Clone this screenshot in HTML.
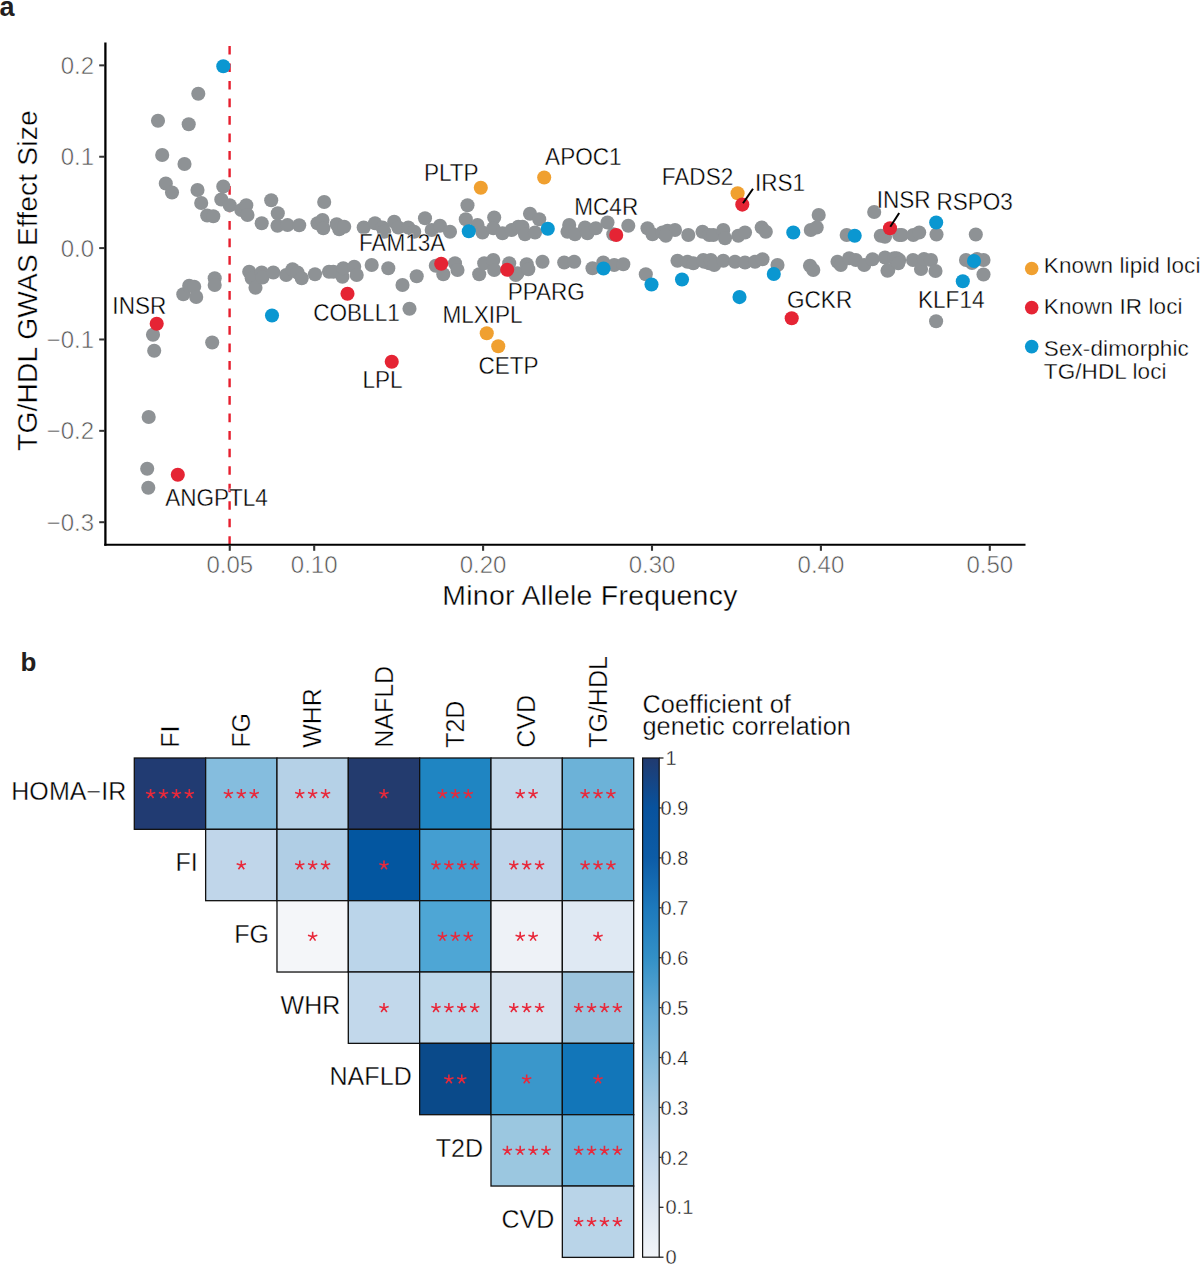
<!DOCTYPE html><html><head><meta charset="utf-8"><style>html,body{margin:0;padding:0;background:#fff;width:1200px;height:1265px;overflow:hidden}svg text{font-family:"Liberation Sans",sans-serif}.k{fill:#000;stroke:#fff;stroke-width:0.35px}.g{fill:#555;stroke:#fff;stroke-width:0.55px}.k2{fill:#111;stroke:#fff;stroke-width:0.4px}</style></head><body><svg width="1200" height="1265" viewBox="0 0 1200 1265" style="display:block">
<rect width="1200" height="1265" fill="#fff"/>
<text x="-0.5" y="15.5" font-size="27" font-weight="bold" fill="#231f20">a</text>
<text x="20.5" y="670.7" font-size="26" font-weight="bold" fill="#231f20">b</text>
<line x1="229.6" y1="45.9" x2="229.6" y2="545" stroke="#e61e2e" stroke-width="2.4" stroke-dasharray="8.7 8.81"/>
<circle cx="198.3" cy="93.8" r="7.05" fill="#8e9295"/>
<circle cx="158" cy="120.8" r="7.05" fill="#8e9295"/>
<circle cx="188.7" cy="124.2" r="7.05" fill="#8e9295"/>
<circle cx="162.2" cy="155" r="7.05" fill="#8e9295"/>
<circle cx="184.5" cy="164" r="7.05" fill="#8e9295"/>
<circle cx="165.8" cy="183.5" r="7.05" fill="#8e9295"/>
<circle cx="172" cy="192.5" r="7.05" fill="#8e9295"/>
<circle cx="197.5" cy="190" r="7.05" fill="#8e9295"/>
<circle cx="201.2" cy="203" r="7.05" fill="#8e9295"/>
<circle cx="207.2" cy="215.5" r="7.05" fill="#8e9295"/>
<circle cx="213.3" cy="216.2" r="7.05" fill="#8e9295"/>
<circle cx="223.3" cy="186.5" r="7.05" fill="#8e9295"/>
<circle cx="221.3" cy="199.5" r="7.05" fill="#8e9295"/>
<circle cx="229.7" cy="205.3" r="7.05" fill="#8e9295"/>
<circle cx="241.3" cy="210" r="7.05" fill="#8e9295"/>
<circle cx="246.3" cy="205.3" r="7.05" fill="#8e9295"/>
<circle cx="247.5" cy="215" r="7.05" fill="#8e9295"/>
<circle cx="261.7" cy="223.3" r="7.05" fill="#8e9295"/>
<circle cx="271.2" cy="200.3" r="7.05" fill="#8e9295"/>
<circle cx="277.8" cy="213.3" r="7.05" fill="#8e9295"/>
<circle cx="277.5" cy="225.8" r="7.05" fill="#8e9295"/>
<circle cx="287.5" cy="225" r="7.05" fill="#8e9295"/>
<circle cx="299.2" cy="225.3" r="7.05" fill="#8e9295"/>
<circle cx="317.5" cy="223.3" r="7.05" fill="#8e9295"/>
<circle cx="322.5" cy="220" r="7.05" fill="#8e9295"/>
<circle cx="323.3" cy="228.3" r="7.05" fill="#8e9295"/>
<circle cx="324.2" cy="202" r="7.05" fill="#8e9295"/>
<circle cx="183.3" cy="294.2" r="7.05" fill="#8e9295"/>
<circle cx="189.2" cy="285.8" r="7.05" fill="#8e9295"/>
<circle cx="194.2" cy="286.7" r="7.05" fill="#8e9295"/>
<circle cx="196.2" cy="297" r="7.05" fill="#8e9295"/>
<circle cx="214.7" cy="278.3" r="7.05" fill="#8e9295"/>
<circle cx="214.7" cy="285" r="7.05" fill="#8e9295"/>
<circle cx="249.2" cy="271.7" r="7.05" fill="#8e9295"/>
<circle cx="251.7" cy="278.3" r="7.05" fill="#8e9295"/>
<circle cx="255.5" cy="287.8" r="7.05" fill="#8e9295"/>
<circle cx="261.7" cy="272.5" r="7.05" fill="#8e9295"/>
<circle cx="262.5" cy="277.5" r="7.05" fill="#8e9295"/>
<circle cx="273.3" cy="272.5" r="7.05" fill="#8e9295"/>
<circle cx="286.2" cy="275" r="7.05" fill="#8e9295"/>
<circle cx="292.5" cy="269.2" r="7.05" fill="#8e9295"/>
<circle cx="297.5" cy="272.5" r="7.05" fill="#8e9295"/>
<circle cx="301.7" cy="278.3" r="7.05" fill="#8e9295"/>
<circle cx="315" cy="274.2" r="7.05" fill="#8e9295"/>
<circle cx="329" cy="271.7" r="7.05" fill="#8e9295"/>
<circle cx="153" cy="334.7" r="7.05" fill="#8e9295"/>
<circle cx="154.2" cy="350.8" r="7.05" fill="#8e9295"/>
<circle cx="212.2" cy="342.5" r="7.05" fill="#8e9295"/>
<circle cx="148.7" cy="417" r="7.05" fill="#8e9295"/>
<circle cx="147.2" cy="468.7" r="7.05" fill="#8e9295"/>
<circle cx="148.3" cy="487.8" r="7.05" fill="#8e9295"/>
<circle cx="336.7" cy="224.2" r="7.05" fill="#8e9295"/>
<circle cx="339.2" cy="229.2" r="7.05" fill="#8e9295"/>
<circle cx="344.2" cy="226.7" r="7.05" fill="#8e9295"/>
<circle cx="363.7" cy="227.5" r="7.05" fill="#8e9295"/>
<circle cx="375" cy="223.3" r="7.05" fill="#8e9295"/>
<circle cx="382.5" cy="227.5" r="7.05" fill="#8e9295"/>
<circle cx="384.2" cy="231.7" r="7.05" fill="#8e9295"/>
<circle cx="394.2" cy="221.7" r="7.05" fill="#8e9295"/>
<circle cx="398.3" cy="227.5" r="7.05" fill="#8e9295"/>
<circle cx="408.3" cy="227.5" r="7.05" fill="#8e9295"/>
<circle cx="414.2" cy="231.7" r="7.05" fill="#8e9295"/>
<circle cx="425" cy="218.3" r="7.05" fill="#8e9295"/>
<circle cx="431.7" cy="230" r="7.05" fill="#8e9295"/>
<circle cx="440" cy="225.8" r="7.05" fill="#8e9295"/>
<circle cx="450" cy="231.7" r="7.05" fill="#8e9295"/>
<circle cx="467.5" cy="205.3" r="7.05" fill="#8e9295"/>
<circle cx="465.8" cy="219.2" r="7.05" fill="#8e9295"/>
<circle cx="477.5" cy="225" r="7.05" fill="#8e9295"/>
<circle cx="482.5" cy="232.5" r="7.05" fill="#8e9295"/>
<circle cx="494.2" cy="217.5" r="7.05" fill="#8e9295"/>
<circle cx="493.3" cy="228.3" r="7.05" fill="#8e9295"/>
<circle cx="502.5" cy="233.3" r="7.05" fill="#8e9295"/>
<circle cx="511.7" cy="230" r="7.05" fill="#8e9295"/>
<circle cx="518.3" cy="226.7" r="7.05" fill="#8e9295"/>
<circle cx="333.3" cy="271.7" r="7.05" fill="#8e9295"/>
<circle cx="342.5" cy="276.7" r="7.05" fill="#8e9295"/>
<circle cx="343.3" cy="268.3" r="7.05" fill="#8e9295"/>
<circle cx="354.2" cy="266.7" r="7.05" fill="#8e9295"/>
<circle cx="356.7" cy="275" r="7.05" fill="#8e9295"/>
<circle cx="371.7" cy="265" r="7.05" fill="#8e9295"/>
<circle cx="388.3" cy="268.3" r="7.05" fill="#8e9295"/>
<circle cx="402.5" cy="285" r="7.05" fill="#8e9295"/>
<circle cx="416.7" cy="276.2" r="7.05" fill="#8e9295"/>
<circle cx="435.8" cy="265.8" r="7.05" fill="#8e9295"/>
<circle cx="443.3" cy="274.2" r="7.05" fill="#8e9295"/>
<circle cx="455" cy="263.3" r="7.05" fill="#8e9295"/>
<circle cx="457.5" cy="270" r="7.05" fill="#8e9295"/>
<circle cx="479.2" cy="274.2" r="7.05" fill="#8e9295"/>
<circle cx="484.2" cy="263.3" r="7.05" fill="#8e9295"/>
<circle cx="493.3" cy="260" r="7.05" fill="#8e9295"/>
<circle cx="494.2" cy="270" r="7.05" fill="#8e9295"/>
<circle cx="509.2" cy="263.3" r="7.05" fill="#8e9295"/>
<circle cx="515.8" cy="275" r="7.05" fill="#8e9295"/>
<circle cx="409.5" cy="308.7" r="7.05" fill="#8e9295"/>
<circle cx="530" cy="213.7" r="7.05" fill="#8e9295"/>
<circle cx="539.2" cy="219.2" r="7.05" fill="#8e9295"/>
<circle cx="522.5" cy="226.7" r="7.05" fill="#8e9295"/>
<circle cx="525" cy="234.2" r="7.05" fill="#8e9295"/>
<circle cx="535" cy="232.5" r="7.05" fill="#8e9295"/>
<circle cx="569.2" cy="225" r="7.05" fill="#8e9295"/>
<circle cx="567.5" cy="231.7" r="7.05" fill="#8e9295"/>
<circle cx="575" cy="234.2" r="7.05" fill="#8e9295"/>
<circle cx="585" cy="227.5" r="7.05" fill="#8e9295"/>
<circle cx="587.5" cy="233.3" r="7.05" fill="#8e9295"/>
<circle cx="595.8" cy="228.3" r="7.05" fill="#8e9295"/>
<circle cx="607.5" cy="222.5" r="7.05" fill="#8e9295"/>
<circle cx="613.3" cy="234.2" r="7.05" fill="#8e9295"/>
<circle cx="628.3" cy="225.8" r="7.05" fill="#8e9295"/>
<circle cx="647.5" cy="228.3" r="7.05" fill="#8e9295"/>
<circle cx="652.5" cy="234.2" r="7.05" fill="#8e9295"/>
<circle cx="662.5" cy="232.5" r="7.05" fill="#8e9295"/>
<circle cx="667.5" cy="230.8" r="7.05" fill="#8e9295"/>
<circle cx="675" cy="230" r="7.05" fill="#8e9295"/>
<circle cx="665.8" cy="235.8" r="7.05" fill="#8e9295"/>
<circle cx="688.3" cy="235" r="7.05" fill="#8e9295"/>
<circle cx="702.5" cy="231.7" r="7.05" fill="#8e9295"/>
<circle cx="709.2" cy="235" r="7.05" fill="#8e9295"/>
<circle cx="517.5" cy="273.3" r="7.05" fill="#8e9295"/>
<circle cx="526.7" cy="264.2" r="7.05" fill="#8e9295"/>
<circle cx="528.3" cy="269.2" r="7.05" fill="#8e9295"/>
<circle cx="542.5" cy="261.7" r="7.05" fill="#8e9295"/>
<circle cx="564.2" cy="262.5" r="7.05" fill="#8e9295"/>
<circle cx="574.2" cy="261.7" r="7.05" fill="#8e9295"/>
<circle cx="592.5" cy="268.3" r="7.05" fill="#8e9295"/>
<circle cx="603.3" cy="262.5" r="7.05" fill="#8e9295"/>
<circle cx="614.2" cy="265" r="7.05" fill="#8e9295"/>
<circle cx="623.3" cy="264.2" r="7.05" fill="#8e9295"/>
<circle cx="645.8" cy="274.2" r="7.05" fill="#8e9295"/>
<circle cx="677.5" cy="260.8" r="7.05" fill="#8e9295"/>
<circle cx="687.5" cy="261.7" r="7.05" fill="#8e9295"/>
<circle cx="693.3" cy="263.3" r="7.05" fill="#8e9295"/>
<circle cx="704.2" cy="261.7" r="7.05" fill="#8e9295"/>
<circle cx="709.2" cy="263.3" r="7.05" fill="#8e9295"/>
<circle cx="713.3" cy="235" r="7.05" fill="#8e9295"/>
<circle cx="723.3" cy="230" r="7.05" fill="#8e9295"/>
<circle cx="725" cy="238.3" r="7.05" fill="#8e9295"/>
<circle cx="738.3" cy="235.8" r="7.05" fill="#8e9295"/>
<circle cx="745" cy="232.5" r="7.05" fill="#8e9295"/>
<circle cx="761.7" cy="227.5" r="7.05" fill="#8e9295"/>
<circle cx="765.8" cy="231.7" r="7.05" fill="#8e9295"/>
<circle cx="818.7" cy="215" r="7.05" fill="#8e9295"/>
<circle cx="810.8" cy="230" r="7.05" fill="#8e9295"/>
<circle cx="816.7" cy="227.5" r="7.05" fill="#8e9295"/>
<circle cx="846.7" cy="235" r="7.05" fill="#8e9295"/>
<circle cx="874.2" cy="212" r="7.05" fill="#8e9295"/>
<circle cx="880.8" cy="235.8" r="7.05" fill="#8e9295"/>
<circle cx="899.2" cy="235" r="7.05" fill="#8e9295"/>
<circle cx="703.3" cy="260" r="7.05" fill="#8e9295"/>
<circle cx="710.8" cy="260" r="7.05" fill="#8e9295"/>
<circle cx="714.2" cy="265" r="7.05" fill="#8e9295"/>
<circle cx="723.3" cy="260.8" r="7.05" fill="#8e9295"/>
<circle cx="735" cy="261.7" r="7.05" fill="#8e9295"/>
<circle cx="745" cy="262.5" r="7.05" fill="#8e9295"/>
<circle cx="755" cy="261.7" r="7.05" fill="#8e9295"/>
<circle cx="762.5" cy="259.2" r="7.05" fill="#8e9295"/>
<circle cx="777.5" cy="265" r="7.05" fill="#8e9295"/>
<circle cx="810" cy="265.8" r="7.05" fill="#8e9295"/>
<circle cx="813.3" cy="270" r="7.05" fill="#8e9295"/>
<circle cx="837.5" cy="261.7" r="7.05" fill="#8e9295"/>
<circle cx="840.8" cy="265" r="7.05" fill="#8e9295"/>
<circle cx="849.2" cy="258.3" r="7.05" fill="#8e9295"/>
<circle cx="855.8" cy="260" r="7.05" fill="#8e9295"/>
<circle cx="864.2" cy="265" r="7.05" fill="#8e9295"/>
<circle cx="872.5" cy="259.2" r="7.05" fill="#8e9295"/>
<circle cx="885" cy="257.5" r="7.05" fill="#8e9295"/>
<circle cx="887.5" cy="270.8" r="7.05" fill="#8e9295"/>
<circle cx="894.2" cy="258.3" r="7.05" fill="#8e9295"/>
<circle cx="899.2" cy="260" r="7.05" fill="#8e9295"/>
<circle cx="885" cy="236.7" r="7.05" fill="#8e9295"/>
<circle cx="901.7" cy="235" r="7.05" fill="#8e9295"/>
<circle cx="913.3" cy="235" r="7.05" fill="#8e9295"/>
<circle cx="919.2" cy="232.5" r="7.05" fill="#8e9295"/>
<circle cx="936.5" cy="234.5" r="7.05" fill="#8e9295"/>
<circle cx="975.8" cy="234.5" r="7.05" fill="#8e9295"/>
<circle cx="888.3" cy="270" r="7.05" fill="#8e9295"/>
<circle cx="896.7" cy="258.3" r="7.05" fill="#8e9295"/>
<circle cx="898.3" cy="263.3" r="7.05" fill="#8e9295"/>
<circle cx="913" cy="260" r="7.05" fill="#8e9295"/>
<circle cx="921" cy="269" r="7.05" fill="#8e9295"/>
<circle cx="924" cy="259" r="7.05" fill="#8e9295"/>
<circle cx="931" cy="260" r="7.05" fill="#8e9295"/>
<circle cx="935.5" cy="271" r="7.05" fill="#8e9295"/>
<circle cx="966" cy="260" r="7.05" fill="#8e9295"/>
<circle cx="972" cy="263" r="7.05" fill="#8e9295"/>
<circle cx="977" cy="259" r="7.05" fill="#8e9295"/>
<circle cx="983.5" cy="260" r="7.05" fill="#8e9295"/>
<circle cx="983.5" cy="274.5" r="7.05" fill="#8e9295"/>
<circle cx="936.1" cy="321.2" r="7.05" fill="#8e9295"/>
<circle cx="480.8" cy="187.8" r="7.05" fill="#f0a030"/>
<circle cx="544.2" cy="177.5" r="7.05" fill="#f0a030"/>
<circle cx="486.75" cy="333.25" r="7.05" fill="#f0a030"/>
<circle cx="498.25" cy="346.25" r="7.05" fill="#f0a030"/>
<circle cx="737.6" cy="193.2" r="7.05" fill="#f0a030"/>
<circle cx="156.7" cy="323.7" r="7.05" fill="#e52434"/>
<circle cx="177.8" cy="474.7" r="7.05" fill="#e52434"/>
<circle cx="347.5" cy="293.7" r="7.05" fill="#e52434"/>
<circle cx="391.75" cy="361.75" r="7.05" fill="#e52434"/>
<circle cx="441.2" cy="263.8" r="7.05" fill="#e52434"/>
<circle cx="507.2" cy="269.7" r="7.05" fill="#e52434"/>
<circle cx="616.2" cy="235" r="7.05" fill="#e52434"/>
<circle cx="742.3" cy="204.6" r="7.05" fill="#e52434"/>
<circle cx="791.7" cy="318.2" r="7.05" fill="#e52434"/>
<circle cx="890" cy="228.3" r="7.05" fill="#e52434"/>
<circle cx="223.3" cy="66.2" r="7.05" fill="#0a97d1"/>
<circle cx="272" cy="315.5" r="7.05" fill="#0a97d1"/>
<circle cx="468.8" cy="231.3" r="7.05" fill="#0a97d1"/>
<circle cx="547.8" cy="228.7" r="7.05" fill="#0a97d1"/>
<circle cx="603.5" cy="268.5" r="7.05" fill="#0a97d1"/>
<circle cx="651.5" cy="284.5" r="7.05" fill="#0a97d1"/>
<circle cx="682" cy="279.5" r="7.05" fill="#0a97d1"/>
<circle cx="739.5" cy="297.1" r="7.05" fill="#0a97d1"/>
<circle cx="773.8" cy="274" r="7.05" fill="#0a97d1"/>
<circle cx="793.3" cy="232.5" r="7.05" fill="#0a97d1"/>
<circle cx="854.7" cy="235.8" r="7.05" fill="#0a97d1"/>
<circle cx="936.2" cy="222.5" r="7.05" fill="#0a97d1"/>
<circle cx="962.8" cy="281.3" r="7.05" fill="#0a97d1"/>
<circle cx="974" cy="261" r="7.05" fill="#0a97d1"/>
<line x1="743" y1="203.3" x2="753" y2="188.7" stroke="#000" stroke-width="2"/>
<line x1="890.3" y1="226.7" x2="899.2" y2="213" stroke="#000" stroke-width="2"/>
<text transform="translate(139.3,314.2) scale(0.98,1)" font-size="23" text-anchor="middle" class="k">INSR</text>
<text transform="translate(216.5,506.2) scale(0.98,1)" font-size="23" text-anchor="middle" class="k">ANGPTL4</text>
<text transform="translate(402.1,250.8) scale(0.98,1)" font-size="23" text-anchor="middle" class="k">FAM13A</text>
<text transform="translate(356.5,321.25) scale(0.98,1)" font-size="23" text-anchor="middle" class="k">COBLL1</text>
<text transform="translate(546.25,300) scale(0.98,1)" font-size="23" text-anchor="middle" class="k">PPARG</text>
<text transform="translate(482.5,323) scale(0.98,1)" font-size="23" text-anchor="middle" class="k">MLXIPL</text>
<text transform="translate(508.5,373.75) scale(0.98,1)" font-size="23" text-anchor="middle" class="k">CETP</text>
<text transform="translate(382.5,388.25) scale(0.98,1)" font-size="23" text-anchor="middle" class="k">LPL</text>
<text transform="translate(451.3,180.7) scale(0.98,1)" font-size="23" text-anchor="middle" class="k">PLTP</text>
<text transform="translate(583.3,165) scale(0.98,1)" font-size="23" text-anchor="middle" class="k">APOC1</text>
<text transform="translate(606.25,214.5) scale(0.98,1)" font-size="23" text-anchor="middle" class="k">MC4R</text>
<text transform="translate(697.5,185) scale(0.98,1)" font-size="23" text-anchor="middle" class="k">FADS2</text>
<text transform="translate(780,190.8) scale(0.98,1)" font-size="23" text-anchor="middle" class="k">IRS1</text>
<text transform="translate(903.7,208.3) scale(0.98,1)" font-size="23" text-anchor="middle" class="k">INSR</text>
<text transform="translate(974.6,209.7) scale(0.98,1)" font-size="23" text-anchor="middle" class="k">RSPO3</text>
<text transform="translate(819.6,307.5) scale(0.98,1)" font-size="23" text-anchor="middle" class="k">GCKR</text>
<text transform="translate(951.25,307.5) scale(0.98,1)" font-size="23" text-anchor="middle" class="k">KLF14</text>
<line x1="105.4" y1="42.5" x2="105.4" y2="545.8" stroke="#000" stroke-width="2.3"/>
<line x1="104.3" y1="544.8" x2="1025.5" y2="544.8" stroke="#000" stroke-width="2.1"/>
<line x1="99.2" y1="65.36" x2="105" y2="65.36" stroke="#333" stroke-width="2.0"/>
<text x="94" y="73.96" font-size="24" text-anchor="end" class="g">0.2</text>
<line x1="99.2" y1="156.73" x2="105" y2="156.73" stroke="#333" stroke-width="2.0"/>
<text x="94" y="165.33" font-size="24" text-anchor="end" class="g">0.1</text>
<line x1="99.2" y1="248.10" x2="105" y2="248.10" stroke="#333" stroke-width="2.0"/>
<text x="94" y="256.70" font-size="24" text-anchor="end" class="g">0.0</text>
<line x1="99.2" y1="339.47" x2="105" y2="339.47" stroke="#333" stroke-width="2.0"/>
<text x="94" y="348.07" font-size="24" text-anchor="end" class="g">−0.1</text>
<line x1="99.2" y1="430.84" x2="105" y2="430.84" stroke="#333" stroke-width="2.0"/>
<text x="94" y="439.44" font-size="24" text-anchor="end" class="g">−0.2</text>
<line x1="99.2" y1="522.21" x2="105" y2="522.21" stroke="#333" stroke-width="2.0"/>
<text x="94" y="530.81" font-size="24" text-anchor="end" class="g">−0.3</text>
<line x1="229.75" y1="545" x2="229.75" y2="550.8" stroke="#333" stroke-width="2.1"/>
<text x="229.75" y="572.8" font-size="24" text-anchor="middle" class="g">0.05</text>
<line x1="314.20" y1="545" x2="314.20" y2="550.8" stroke="#333" stroke-width="2.1"/>
<text x="314.20" y="572.8" font-size="24" text-anchor="middle" class="g">0.10</text>
<line x1="483.10" y1="545" x2="483.10" y2="550.8" stroke="#333" stroke-width="2.1"/>
<text x="483.10" y="572.8" font-size="24" text-anchor="middle" class="g">0.20</text>
<line x1="652.00" y1="545" x2="652.00" y2="550.8" stroke="#333" stroke-width="2.1"/>
<text x="652.00" y="572.8" font-size="24" text-anchor="middle" class="g">0.30</text>
<line x1="820.90" y1="545" x2="820.90" y2="550.8" stroke="#333" stroke-width="2.1"/>
<text x="820.90" y="572.8" font-size="24" text-anchor="middle" class="g">0.40</text>
<line x1="989.80" y1="545" x2="989.80" y2="550.8" stroke="#333" stroke-width="2.1"/>
<text x="989.80" y="572.8" font-size="24" text-anchor="middle" class="g">0.50</text>
<text x="590" y="604.7" font-size="28.4" letter-spacing="0.3" text-anchor="middle" class="k">Minor Allele Frequency</text>
<text transform="translate(36.5,280.6) rotate(-90)" font-size="28.2" letter-spacing="0.15" text-anchor="middle" class="k">TG/HDL GWAS Effect Size</text>
<circle cx="1031.7" cy="268.5" r="6.8" fill="#f0a030"/>
<circle cx="1031.7" cy="307.6" r="6.8" fill="#e52434"/>
<circle cx="1031.7" cy="346.6" r="6.8" fill="#0a97d1"/>
<text x="1043.8" y="273.2" font-size="22.5" letter-spacing="0.1" class="k">Known lipid loci</text>
<text x="1043.8" y="314.4" font-size="22.5" letter-spacing="0.1" class="k">Known IR loci</text>
<text x="1043.8" y="356.4" font-size="22.5" letter-spacing="0.1" class="k">Sex-dimorphic</text>
<text x="1043.8" y="378.5" font-size="22.5" letter-spacing="0.1" class="k">TG/HDL loci</text>
<rect x="134.30" y="758.00" width="71.34" height="71.34" fill="#213b72" stroke="#111" stroke-width="1.3"/>
<rect x="205.64" y="758.00" width="71.34" height="71.34" fill="#85bdde" stroke="#111" stroke-width="1.3"/>
<rect x="276.98" y="758.00" width="71.34" height="71.34" fill="#b5d1e7" stroke="#111" stroke-width="1.3"/>
<rect x="348.32" y="758.00" width="71.34" height="71.34" fill="#233b6e" stroke="#111" stroke-width="1.3"/>
<rect x="419.66" y="758.00" width="71.34" height="71.34" fill="#1f85c2" stroke="#111" stroke-width="1.3"/>
<rect x="491.00" y="758.00" width="71.34" height="71.34" fill="#c4d9eb" stroke="#111" stroke-width="1.3"/>
<rect x="562.34" y="758.00" width="71.34" height="71.34" fill="#6cb2d8" stroke="#111" stroke-width="1.3"/>
<rect x="205.64" y="829.34" width="71.34" height="71.34" fill="#c0d6ea" stroke="#111" stroke-width="1.3"/>
<rect x="276.98" y="829.34" width="71.34" height="71.34" fill="#b0cee5" stroke="#111" stroke-width="1.3"/>
<rect x="348.32" y="829.34" width="71.34" height="71.34" fill="#0356a0" stroke="#111" stroke-width="1.3"/>
<rect x="419.66" y="829.34" width="71.34" height="71.34" fill="#449ed1" stroke="#111" stroke-width="1.3"/>
<rect x="491.00" y="829.34" width="71.34" height="71.34" fill="#bfd5ea" stroke="#111" stroke-width="1.3"/>
<rect x="562.34" y="829.34" width="71.34" height="71.34" fill="#6eb4d9" stroke="#111" stroke-width="1.3"/>
<rect x="276.98" y="900.68" width="71.34" height="71.34" fill="#f4f6f9" stroke="#111" stroke-width="1.3"/>
<rect x="348.32" y="900.68" width="71.34" height="71.34" fill="#bbd5ea" stroke="#111" stroke-width="1.3"/>
<rect x="419.66" y="900.68" width="71.34" height="71.34" fill="#4ea6d5" stroke="#111" stroke-width="1.3"/>
<rect x="491.00" y="900.68" width="71.34" height="71.34" fill="#eef2f7" stroke="#111" stroke-width="1.3"/>
<rect x="562.34" y="900.68" width="71.34" height="71.34" fill="#dfe9f3" stroke="#111" stroke-width="1.3"/>
<rect x="348.32" y="972.02" width="71.34" height="71.34" fill="#c2d8eb" stroke="#111" stroke-width="1.3"/>
<rect x="419.66" y="972.02" width="71.34" height="71.34" fill="#bdd7ea" stroke="#111" stroke-width="1.3"/>
<rect x="491.00" y="972.02" width="71.34" height="71.34" fill="#d7e3ef" stroke="#111" stroke-width="1.3"/>
<rect x="562.34" y="972.02" width="71.34" height="71.34" fill="#9dc5de" stroke="#111" stroke-width="1.3"/>
<rect x="419.66" y="1043.36" width="71.34" height="71.34" fill="#0a4a8a" stroke="#111" stroke-width="1.3"/>
<rect x="491.00" y="1043.36" width="71.34" height="71.34" fill="#3a97cb" stroke="#111" stroke-width="1.3"/>
<rect x="562.34" y="1043.36" width="71.34" height="71.34" fill="#1276b9" stroke="#111" stroke-width="1.3"/>
<rect x="491.00" y="1114.70" width="71.34" height="71.34" fill="#9bc7e0" stroke="#111" stroke-width="1.3"/>
<rect x="562.34" y="1114.70" width="71.34" height="71.34" fill="#69b2da" stroke="#111" stroke-width="1.3"/>
<rect x="562.34" y="1186.04" width="71.34" height="71.34" fill="#b9d4e8" stroke="#111" stroke-width="1.3"/>
<path d="M150.62 793.97L150.62 789.07M150.62 793.97L155.28 792.46M150.62 793.97L153.50 797.93M150.62 793.97L147.74 797.93M150.62 793.97L145.96 792.46M163.52 793.97L163.52 789.07M163.52 793.97L168.18 792.46M163.52 793.97L166.40 797.93M163.52 793.97L160.64 797.93M163.52 793.97L158.86 792.46M176.42 793.97L176.42 789.07M176.42 793.97L181.08 792.46M176.42 793.97L179.30 797.93M176.42 793.97L173.54 797.93M176.42 793.97L171.76 792.46M189.32 793.97L189.32 789.07M189.32 793.97L193.98 792.46M189.32 793.97L192.20 797.93M189.32 793.97L186.44 797.93M189.32 793.97L184.66 792.46M228.41 793.97L228.41 789.07M228.41 793.97L233.07 792.46M228.41 793.97L231.29 797.93M228.41 793.97L225.53 797.93M228.41 793.97L223.75 792.46M241.31 793.97L241.31 789.07M241.31 793.97L245.97 792.46M241.31 793.97L244.19 797.93M241.31 793.97L238.43 797.93M241.31 793.97L236.65 792.46M254.21 793.97L254.21 789.07M254.21 793.97L258.87 792.46M254.21 793.97L257.09 797.93M254.21 793.97L251.33 797.93M254.21 793.97L249.55 792.46M299.75 793.97L299.75 789.07M299.75 793.97L304.41 792.46M299.75 793.97L302.63 797.93M299.75 793.97L296.87 797.93M299.75 793.97L295.09 792.46M312.65 793.97L312.65 789.07M312.65 793.97L317.31 792.46M312.65 793.97L315.53 797.93M312.65 793.97L309.77 797.93M312.65 793.97L307.99 792.46M325.55 793.97L325.55 789.07M325.55 793.97L330.21 792.46M325.55 793.97L328.43 797.93M325.55 793.97L322.67 797.93M325.55 793.97L320.89 792.46M383.99 793.97L383.99 789.07M383.99 793.97L388.65 792.46M383.99 793.97L386.87 797.93M383.99 793.97L381.11 797.93M383.99 793.97L379.33 792.46M442.43 793.97L442.43 789.07M442.43 793.97L447.09 792.46M442.43 793.97L445.31 797.93M442.43 793.97L439.55 797.93M442.43 793.97L437.77 792.46M455.33 793.97L455.33 789.07M455.33 793.97L459.99 792.46M455.33 793.97L458.21 797.93M455.33 793.97L452.45 797.93M455.33 793.97L450.67 792.46M468.23 793.97L468.23 789.07M468.23 793.97L472.89 792.46M468.23 793.97L471.11 797.93M468.23 793.97L465.35 797.93M468.23 793.97L463.57 792.46M520.22 793.97L520.22 789.07M520.22 793.97L524.88 792.46M520.22 793.97L523.10 797.93M520.22 793.97L517.34 797.93M520.22 793.97L515.56 792.46M533.12 793.97L533.12 789.07M533.12 793.97L537.78 792.46M533.12 793.97L536.00 797.93M533.12 793.97L530.24 797.93M533.12 793.97L528.46 792.46M585.11 793.97L585.11 789.07M585.11 793.97L589.77 792.46M585.11 793.97L587.99 797.93M585.11 793.97L582.23 797.93M585.11 793.97L580.45 792.46M598.01 793.97L598.01 789.07M598.01 793.97L602.67 792.46M598.01 793.97L600.89 797.93M598.01 793.97L595.13 797.93M598.01 793.97L593.35 792.46M610.91 793.97L610.91 789.07M610.91 793.97L615.57 792.46M610.91 793.97L613.79 797.93M610.91 793.97L608.03 797.93M610.91 793.97L606.25 792.46M241.31 865.31L241.31 860.41M241.31 865.31L245.97 863.80M241.31 865.31L244.19 869.27M241.31 865.31L238.43 869.27M241.31 865.31L236.65 863.80M299.75 865.31L299.75 860.41M299.75 865.31L304.41 863.80M299.75 865.31L302.63 869.27M299.75 865.31L296.87 869.27M299.75 865.31L295.09 863.80M312.65 865.31L312.65 860.41M312.65 865.31L317.31 863.80M312.65 865.31L315.53 869.27M312.65 865.31L309.77 869.27M312.65 865.31L307.99 863.80M325.55 865.31L325.55 860.41M325.55 865.31L330.21 863.80M325.55 865.31L328.43 869.27M325.55 865.31L322.67 869.27M325.55 865.31L320.89 863.80M383.99 865.31L383.99 860.41M383.99 865.31L388.65 863.80M383.99 865.31L386.87 869.27M383.99 865.31L381.11 869.27M383.99 865.31L379.33 863.80M435.98 865.31L435.98 860.41M435.98 865.31L440.64 863.80M435.98 865.31L438.86 869.27M435.98 865.31L433.10 869.27M435.98 865.31L431.32 863.80M448.88 865.31L448.88 860.41M448.88 865.31L453.54 863.80M448.88 865.31L451.76 869.27M448.88 865.31L446.00 869.27M448.88 865.31L444.22 863.80M461.78 865.31L461.78 860.41M461.78 865.31L466.44 863.80M461.78 865.31L464.66 869.27M461.78 865.31L458.90 869.27M461.78 865.31L457.12 863.80M474.68 865.31L474.68 860.41M474.68 865.31L479.34 863.80M474.68 865.31L477.56 869.27M474.68 865.31L471.80 869.27M474.68 865.31L470.02 863.80M513.77 865.31L513.77 860.41M513.77 865.31L518.43 863.80M513.77 865.31L516.65 869.27M513.77 865.31L510.89 869.27M513.77 865.31L509.11 863.80M526.67 865.31L526.67 860.41M526.67 865.31L531.33 863.80M526.67 865.31L529.55 869.27M526.67 865.31L523.79 869.27M526.67 865.31L522.01 863.80M539.57 865.31L539.57 860.41M539.57 865.31L544.23 863.80M539.57 865.31L542.45 869.27M539.57 865.31L536.69 869.27M539.57 865.31L534.91 863.80M585.11 865.31L585.11 860.41M585.11 865.31L589.77 863.80M585.11 865.31L587.99 869.27M585.11 865.31L582.23 869.27M585.11 865.31L580.45 863.80M598.01 865.31L598.01 860.41M598.01 865.31L602.67 863.80M598.01 865.31L600.89 869.27M598.01 865.31L595.13 869.27M598.01 865.31L593.35 863.80M610.91 865.31L610.91 860.41M610.91 865.31L615.57 863.80M610.91 865.31L613.79 869.27M610.91 865.31L608.03 869.27M610.91 865.31L606.25 863.80M312.65 936.65L312.65 931.75M312.65 936.65L317.31 935.14M312.65 936.65L315.53 940.61M312.65 936.65L309.77 940.61M312.65 936.65L307.99 935.14M442.43 936.65L442.43 931.75M442.43 936.65L447.09 935.14M442.43 936.65L445.31 940.61M442.43 936.65L439.55 940.61M442.43 936.65L437.77 935.14M455.33 936.65L455.33 931.75M455.33 936.65L459.99 935.14M455.33 936.65L458.21 940.61M455.33 936.65L452.45 940.61M455.33 936.65L450.67 935.14M468.23 936.65L468.23 931.75M468.23 936.65L472.89 935.14M468.23 936.65L471.11 940.61M468.23 936.65L465.35 940.61M468.23 936.65L463.57 935.14M520.22 936.65L520.22 931.75M520.22 936.65L524.88 935.14M520.22 936.65L523.10 940.61M520.22 936.65L517.34 940.61M520.22 936.65L515.56 935.14M533.12 936.65L533.12 931.75M533.12 936.65L537.78 935.14M533.12 936.65L536.00 940.61M533.12 936.65L530.24 940.61M533.12 936.65L528.46 935.14M598.01 936.65L598.01 931.75M598.01 936.65L602.67 935.14M598.01 936.65L600.89 940.61M598.01 936.65L595.13 940.61M598.01 936.65L593.35 935.14M383.99 1007.99L383.99 1003.09M383.99 1007.99L388.65 1006.48M383.99 1007.99L386.87 1011.95M383.99 1007.99L381.11 1011.95M383.99 1007.99L379.33 1006.48M435.98 1007.99L435.98 1003.09M435.98 1007.99L440.64 1006.48M435.98 1007.99L438.86 1011.95M435.98 1007.99L433.10 1011.95M435.98 1007.99L431.32 1006.48M448.88 1007.99L448.88 1003.09M448.88 1007.99L453.54 1006.48M448.88 1007.99L451.76 1011.95M448.88 1007.99L446.00 1011.95M448.88 1007.99L444.22 1006.48M461.78 1007.99L461.78 1003.09M461.78 1007.99L466.44 1006.48M461.78 1007.99L464.66 1011.95M461.78 1007.99L458.90 1011.95M461.78 1007.99L457.12 1006.48M474.68 1007.99L474.68 1003.09M474.68 1007.99L479.34 1006.48M474.68 1007.99L477.56 1011.95M474.68 1007.99L471.80 1011.95M474.68 1007.99L470.02 1006.48M513.77 1007.99L513.77 1003.09M513.77 1007.99L518.43 1006.48M513.77 1007.99L516.65 1011.95M513.77 1007.99L510.89 1011.95M513.77 1007.99L509.11 1006.48M526.67 1007.99L526.67 1003.09M526.67 1007.99L531.33 1006.48M526.67 1007.99L529.55 1011.95M526.67 1007.99L523.79 1011.95M526.67 1007.99L522.01 1006.48M539.57 1007.99L539.57 1003.09M539.57 1007.99L544.23 1006.48M539.57 1007.99L542.45 1011.95M539.57 1007.99L536.69 1011.95M539.57 1007.99L534.91 1006.48M578.66 1007.99L578.66 1003.09M578.66 1007.99L583.32 1006.48M578.66 1007.99L581.54 1011.95M578.66 1007.99L575.78 1011.95M578.66 1007.99L574.00 1006.48M591.56 1007.99L591.56 1003.09M591.56 1007.99L596.22 1006.48M591.56 1007.99L594.44 1011.95M591.56 1007.99L588.68 1011.95M591.56 1007.99L586.90 1006.48M604.46 1007.99L604.46 1003.09M604.46 1007.99L609.12 1006.48M604.46 1007.99L607.34 1011.95M604.46 1007.99L601.58 1011.95M604.46 1007.99L599.80 1006.48M617.36 1007.99L617.36 1003.09M617.36 1007.99L622.02 1006.48M617.36 1007.99L620.24 1011.95M617.36 1007.99L614.48 1011.95M617.36 1007.99L612.70 1006.48M448.88 1079.33L448.88 1074.43M448.88 1079.33L453.54 1077.82M448.88 1079.33L451.76 1083.29M448.88 1079.33L446.00 1083.29M448.88 1079.33L444.22 1077.82M461.78 1079.33L461.78 1074.43M461.78 1079.33L466.44 1077.82M461.78 1079.33L464.66 1083.29M461.78 1079.33L458.90 1083.29M461.78 1079.33L457.12 1077.82M526.67 1079.33L526.67 1074.43M526.67 1079.33L531.33 1077.82M526.67 1079.33L529.55 1083.29M526.67 1079.33L523.79 1083.29M526.67 1079.33L522.01 1077.82M598.01 1079.33L598.01 1074.43M598.01 1079.33L602.67 1077.82M598.01 1079.33L600.89 1083.29M598.01 1079.33L595.13 1083.29M598.01 1079.33L593.35 1077.82M507.32 1150.67L507.32 1145.77M507.32 1150.67L511.98 1149.16M507.32 1150.67L510.20 1154.63M507.32 1150.67L504.44 1154.63M507.32 1150.67L502.66 1149.16M520.22 1150.67L520.22 1145.77M520.22 1150.67L524.88 1149.16M520.22 1150.67L523.10 1154.63M520.22 1150.67L517.34 1154.63M520.22 1150.67L515.56 1149.16M533.12 1150.67L533.12 1145.77M533.12 1150.67L537.78 1149.16M533.12 1150.67L536.00 1154.63M533.12 1150.67L530.24 1154.63M533.12 1150.67L528.46 1149.16M546.02 1150.67L546.02 1145.77M546.02 1150.67L550.68 1149.16M546.02 1150.67L548.90 1154.63M546.02 1150.67L543.14 1154.63M546.02 1150.67L541.36 1149.16M578.66 1150.67L578.66 1145.77M578.66 1150.67L583.32 1149.16M578.66 1150.67L581.54 1154.63M578.66 1150.67L575.78 1154.63M578.66 1150.67L574.00 1149.16M591.56 1150.67L591.56 1145.77M591.56 1150.67L596.22 1149.16M591.56 1150.67L594.44 1154.63M591.56 1150.67L588.68 1154.63M591.56 1150.67L586.90 1149.16M604.46 1150.67L604.46 1145.77M604.46 1150.67L609.12 1149.16M604.46 1150.67L607.34 1154.63M604.46 1150.67L601.58 1154.63M604.46 1150.67L599.80 1149.16M617.36 1150.67L617.36 1145.77M617.36 1150.67L622.02 1149.16M617.36 1150.67L620.24 1154.63M617.36 1150.67L614.48 1154.63M617.36 1150.67L612.70 1149.16M578.66 1222.01L578.66 1217.11M578.66 1222.01L583.32 1220.50M578.66 1222.01L581.54 1225.97M578.66 1222.01L575.78 1225.97M578.66 1222.01L574.00 1220.50M591.56 1222.01L591.56 1217.11M591.56 1222.01L596.22 1220.50M591.56 1222.01L594.44 1225.97M591.56 1222.01L588.68 1225.97M591.56 1222.01L586.90 1220.50M604.46 1222.01L604.46 1217.11M604.46 1222.01L609.12 1220.50M604.46 1222.01L607.34 1225.97M604.46 1222.01L601.58 1225.97M604.46 1222.01L599.80 1220.50M617.36 1222.01L617.36 1217.11M617.36 1222.01L622.02 1220.50M617.36 1222.01L620.24 1225.97M617.36 1222.01L614.48 1225.97M617.36 1222.01L612.70 1220.50" stroke="#e8293b" stroke-width="1.6" fill="none"/>
<text x="126.50" y="799.87" font-size="25" letter-spacing="0.1" text-anchor="end" class="k">HOMA−IR</text>
<text x="197.84" y="871.21" font-size="25" letter-spacing="0.1" text-anchor="end" class="k">FI</text>
<text x="269.18" y="942.55" font-size="25" letter-spacing="0.1" text-anchor="end" class="k">FG</text>
<text x="340.52" y="1013.89" font-size="25" letter-spacing="0.1" text-anchor="end" class="k">WHR</text>
<text x="411.86" y="1085.23" font-size="25" letter-spacing="0.1" text-anchor="end" class="k">NAFLD</text>
<text x="483.20" y="1156.57" font-size="25" letter-spacing="0.1" text-anchor="end" class="k">T2D</text>
<text x="554.54" y="1227.91" font-size="25" letter-spacing="0.1" text-anchor="end" class="k">CVD</text>
<text transform="translate(178.57,747.8) rotate(-90)" font-size="25" class="k">FI</text>
<text transform="translate(249.91,747.8) rotate(-90)" font-size="25" class="k">FG</text>
<text transform="translate(321.25,747.8) rotate(-90)" font-size="25" class="k">WHR</text>
<text transform="translate(392.59,747.8) rotate(-90)" font-size="25" class="k">NAFLD</text>
<text transform="translate(463.93,747.8) rotate(-90)" font-size="25" class="k">T2D</text>
<text transform="translate(535.27,747.8) rotate(-90)" font-size="25" class="k">CVD</text>
<text transform="translate(606.61,747.8) rotate(-90)" font-size="25" class="k">TG/HDL</text>
<defs><linearGradient id="cb" x1="0" y1="1" x2="0" y2="0"><stop offset="0" stop-color="#f2f5f9"/><stop offset="0.1" stop-color="#dce6f1"/><stop offset="0.2" stop-color="#c3d8eb"/><stop offset="0.3" stop-color="#a6cae2"/><stop offset="0.4" stop-color="#82badb"/><stop offset="0.5" stop-color="#5fa8d4"/><stop offset="0.6" stop-color="#3390c7"/><stop offset="0.7" stop-color="#1d79bc"/><stop offset="0.8" stop-color="#0d5ca6"/><stop offset="0.9" stop-color="#08529d"/><stop offset="1" stop-color="#213a6f"/></linearGradient></defs>
<rect x="642.6" y="758" width="16.6" height="499.2" fill="url(#cb)" stroke="#111" stroke-width="1.2"/>
<line x1="659.2" y1="1257.20" x2="663.5" y2="1257.20" stroke="#111" stroke-width="1.2"/>
<text x="665.5" y="1264.40" font-size="20" class="k2">0</text>
<line x1="659.2" y1="1207.28" x2="663.5" y2="1207.28" stroke="#111" stroke-width="1.2"/>
<text x="665.5" y="1214.48" font-size="20" class="k2">0.1</text>
<line x1="659.2" y1="1157.36" x2="663.5" y2="1157.36" stroke="#111" stroke-width="1.2"/>
<text x="660.5" y="1164.56" font-size="20" class="k2">0.2</text>
<line x1="659.2" y1="1107.44" x2="663.5" y2="1107.44" stroke="#111" stroke-width="1.2"/>
<text x="660.5" y="1114.64" font-size="20" class="k2">0.3</text>
<line x1="659.2" y1="1057.52" x2="663.5" y2="1057.52" stroke="#111" stroke-width="1.2"/>
<text x="660.5" y="1064.72" font-size="20" class="k2">0.4</text>
<line x1="659.2" y1="1007.60" x2="663.5" y2="1007.60" stroke="#111" stroke-width="1.2"/>
<text x="660.5" y="1014.80" font-size="20" class="k2">0.5</text>
<line x1="659.2" y1="957.68" x2="663.5" y2="957.68" stroke="#111" stroke-width="1.2"/>
<text x="660.5" y="964.88" font-size="20" class="k2">0.6</text>
<line x1="659.2" y1="907.76" x2="663.5" y2="907.76" stroke="#111" stroke-width="1.2"/>
<text x="660.5" y="914.96" font-size="20" class="k2">0.7</text>
<line x1="659.2" y1="857.84" x2="663.5" y2="857.84" stroke="#111" stroke-width="1.2"/>
<text x="660.5" y="865.04" font-size="20" class="k2">0.8</text>
<line x1="659.2" y1="807.92" x2="663.5" y2="807.92" stroke="#111" stroke-width="1.2"/>
<text x="660.5" y="815.12" font-size="20" class="k2">0.9</text>
<line x1="659.2" y1="758.00" x2="663.5" y2="758.00" stroke="#111" stroke-width="1.2"/>
<text x="665.5" y="765.20" font-size="20" class="k2">1</text>
<text x="642.4" y="713" font-size="25.3" letter-spacing="0.1" class="k">Coefficient of</text>
<text x="642.4" y="735" font-size="25.3" letter-spacing="0.1" class="k">genetic correlation</text>
</svg></body></html>
